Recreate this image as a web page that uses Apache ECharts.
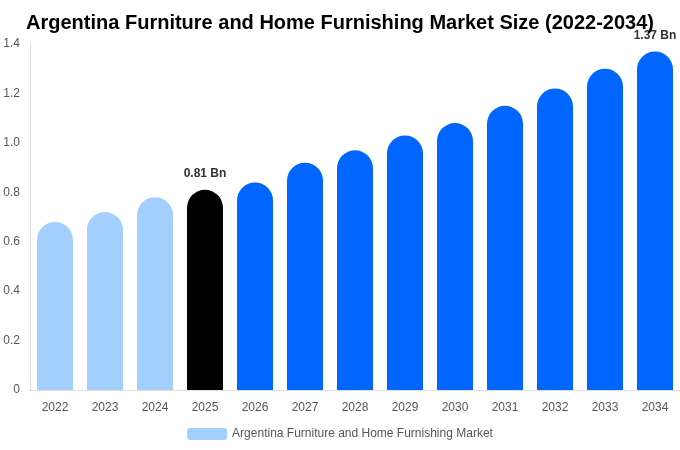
<!DOCTYPE html>
<html lang="en">
<head>
    <meta charset="UTF-8">
    <title>Argentina Furniture and Home Furnishing Market Size</title>
    <style>
        html, body { margin: 0; padding: 0; background: #fff; }
        #main { width: 680px; height: 450px; }
    </style>
</head>
<body>
<div id="main"></div>
<script src="https://cdn.jsdelivr.net/npm/echarts@6/dist/echarts.min.js"></script>
<script>
    // chart data
    var years = ['2022', '2023', '2024', '2025', '2026', '2027', '2028', '2029', '2030', '2031', '2032', '2033', '2034'];
    var marketSize = [0.68, 0.72, 0.78, 0.81, 0.84, 0.92, 0.97, 1.03, 1.08, 1.15, 1.22, 1.30, 1.37];
    var yTicks = [0, 0.2, 0.4, 0.6, 0.8, 1.0, 1.2, 1.4];
    var labeledYears = ['2025', '2034'];

    var LIGHT = '#a3cfff', BASE = '#000000', BLUE = '#0066ff';

    function barColor(year) {
        if (year < '2025') return LIGHT;
        if (year === '2025') return BASE;
        return BLUE;
    }

    var barData = marketSize.map(function (v, i) {
        var item = { value: v, itemStyle: { color: barColor(years[i]) } };
        if (labeledYears.indexOf(years[i]) >= 0) {
            item.label = {
                show: true,
                position: 'top',
                formatter: v.toFixed(2) + ' Bn',
                color: '#333',
                fontWeight: 'bold',
                fontSize: 12,
                distance: 10
            };
        }
        return item;
    });

    var chart = echarts.init(document.getElementById('main'));
    chart.setOption({
        animation: false,
        textStyle: { fontFamily: 'Liberation Sans, Arial, sans-serif' },
        title: {
            text: 'Argentina Furniture and Home Furnishing Market Size (2022-2034)',
            left: 'center',
            top: 8,
            textStyle: { fontSize: 20, fontWeight: 'bold', color: '#000' }
        },
        legend: {
            bottom: 5,
            left: 'center',
            itemWidth: 40,
            itemHeight: 12,
            itemGap: 10,
            textStyle: { color: '#555', fontSize: 12 },
            data: ['Argentina Furniture and Home Furnishing Market']
        },
        grid: { left: 30, right: 0, top: 44, bottom: 60 },
        xAxis: {
            type: 'category',
            data: years,
            axisLine: { lineStyle: { color: '#ddd' } },
            axisTick: { show: false },
            axisLabel: { color: '#555', fontSize: 12, margin: 12 }
        },
        yAxis: {
            type: 'value',
            min: yTicks[0],
            max: yTicks[yTicks.length - 1],
            interval: 0.2,
            axisLine: { show: true, lineStyle: { color: '#ddd' } },
            axisTick: { show: false },
            splitLine: { show: false },
            axisLabel: {
                color: '#555',
                fontSize: 12,
                margin: 10,
                formatter: function (v) { return v === 0 ? '0' : v.toFixed(1); }
            }
        },
        series: [{
            name: 'Argentina Furniture and Home Furnishing Market',
            type: 'bar',
            barWidth: 36,
            itemStyle: { color: LIGHT, borderRadius: [18, 18, 0, 0] },
            data: barData
        }]
    });
</script>
</body>
</html>
